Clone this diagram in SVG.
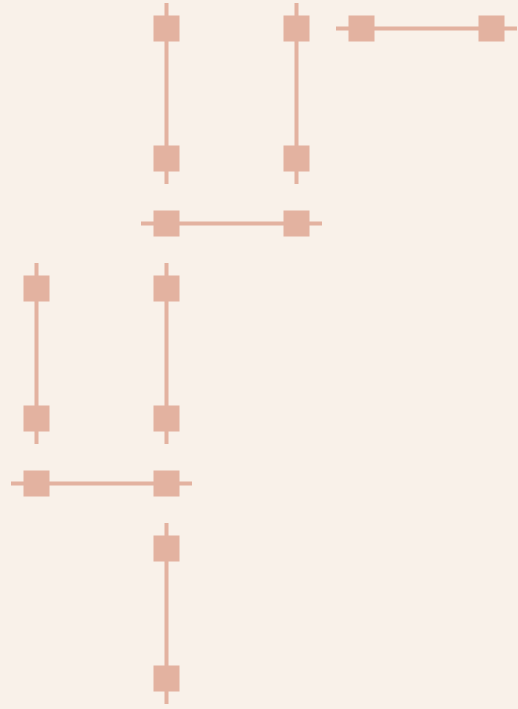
<svg xmlns="http://www.w3.org/2000/svg" width="518" height="709" viewBox="0 0 518 709">
<style>
.bg{fill:#f9f1e9}
.e{stroke:#e3b2a0;stroke-width:4;fill:none}
.n{fill:#e3b2a0}
</style>
<defs>
<rect id="sq" x="-13" y="-13" width="26" height="26" class="n"/>
</defs>
<rect class="bg" x="0" y="0" width="518" height="709"/>
<g id="connectors">
<line class="e" x1="166.5" y1="3" x2="166.5" y2="184"/>
<line class="e" x1="296.5" y1="3" x2="296.5" y2="184"/>
<line class="e" x1="336" y1="28.5" x2="517" y2="28.5"/>
<line class="e" x1="141" y1="223.5" x2="322" y2="223.5"/>
<line class="e" x1="36.5" y1="263" x2="36.5" y2="444"/>
<line class="e" x1="166.5" y1="263" x2="166.5" y2="444"/>
<line class="e" x1="11" y1="483.5" x2="192" y2="483.5"/>
<line class="e" x1="166.5" y1="523" x2="166.5" y2="704"/>
</g>
<g id="n1"><use href="#sq" x="166.5" y="28.5"/></g>
<g id="n2"><use href="#sq" x="166.5" y="158.5"/></g>
<g id="n3"><use href="#sq" x="296.5" y="28.5"/></g>
<g id="n4"><use href="#sq" x="296.5" y="158.5"/></g>
<g id="n5"><use href="#sq" x="361.5" y="28.5"/></g>
<g id="n6"><use href="#sq" x="491.5" y="28.5"/></g>
<g id="n7"><use href="#sq" x="166.5" y="223.5"/></g>
<g id="n8"><use href="#sq" x="296.5" y="223.5"/></g>
<g id="n9"><use href="#sq" x="36.5" y="288.5"/></g>
<g id="n10"><use href="#sq" x="36.5" y="418.5"/></g>
<g id="n11"><use href="#sq" x="166.5" y="288.5"/></g>
<g id="n12"><use href="#sq" x="166.5" y="418.5"/></g>
<g id="n13"><use href="#sq" x="36.5" y="483.5"/></g>
<g id="n14"><use href="#sq" x="166.5" y="483.5"/></g>
<g id="n15"><use href="#sq" x="166.5" y="548.5"/></g>
<g id="n16"><use href="#sq" x="166.5" y="678.5"/></g>
</svg>
